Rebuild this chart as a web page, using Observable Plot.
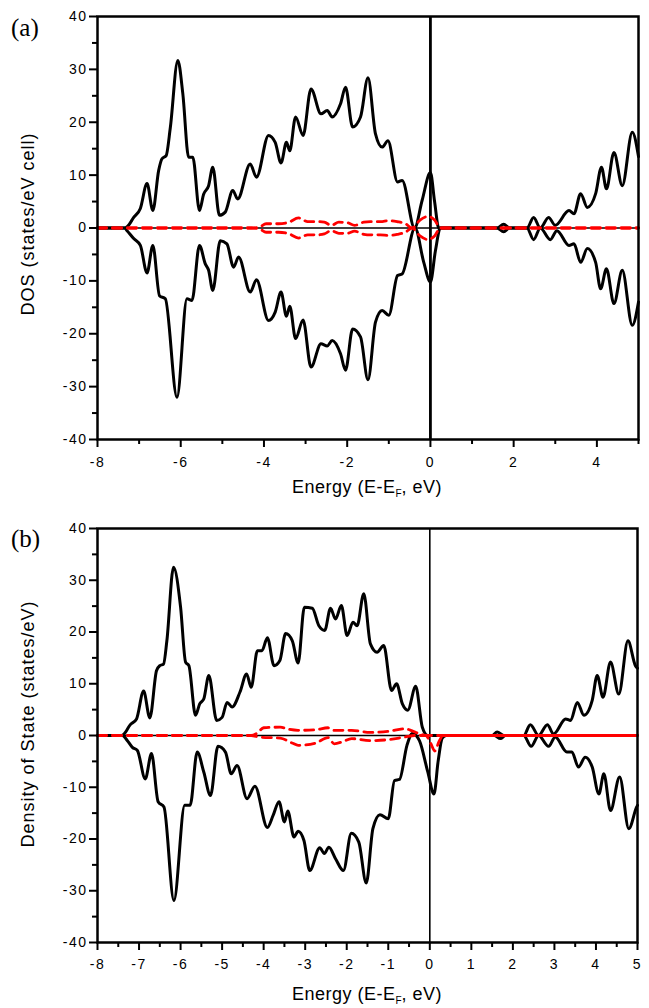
<!DOCTYPE html>
<html><head><meta charset="utf-8">
<script src="https://cdn.jsdelivr.net/npm/d3@7"></script>
<script src="https://cdn.jsdelivr.net/npm/@observablehq/plot@0.6"></script>
<style>
body{margin:0;background:#fff;}
#wrap{position:relative;width:649px;height:1008px;font-family:"Liberation Sans",Arial,sans-serif;overflow:hidden;}
.panel{position:absolute;left:0;}
.lbl{position:absolute;white-space:nowrap;color:#000;line-height:1;}
.plab{font-family:"Liberation Serif","DejaVu Serif",serif;font-size:25px;}
.ylab{font-size:18px;letter-spacing:1px;transform:translate(-50%,-50%) rotate(-90deg);}
.xlab{font-size:18px;letter-spacing:0.5px;transform:translate(-50%,-50%);}
.xlab sub{font-size:10px;vertical-align:-4px;letter-spacing:0;}
</style></head><body>
<div id="wrap">
  <div id="pa" class="panel" style="top:0px"></div>
  <div id="pb" class="panel" style="top:500px"></div>
  <div class="lbl plab" style="left:11px;top:15px">(a)</div>
  <div class="lbl plab" style="left:11px;top:526px">(b)</div>
  <div class="lbl ylab" style="left:28px;top:224px">DOS (states/eV cell)</div>
  <div class="lbl ylab" style="left:28px;top:724px">Density of State (states/eV)</div>
  <div class="lbl xlab" style="left:367px;top:488px">Energy (E-E<sub>F</sub>, eV)</div>
  <div class="lbl xlab" style="left:367px;top:995px">Energy (E-E<sub>F</sub>, eV)</div>
</div>
<script>
// ---------- Data (energy in eV, DOS) ----------
const yMajorTicks = [-40, -30, -20, -10, 0, 10, 20, 30, 40];
const yMinorTicks = [-35, -25, -15, -5, 5, 15, 25, 35];
const aXMajorTicks = [-8, -6, -4, -2, 0, 2, 4];
const aXMinorTicks = [-7, -5, -3, -1, 1, 3, 5];
const bXMajorTicks = [-8, -7, -6, -5, -4, -3, -2, -1, 0, 1, 2, 3, 4, 5];
const bXMinorTicks = [-7.5, -6.5, -5.5, -4.5, -3.5, -2.5, -1.5, -0.5, 0.5, 1.5, 2.5, 3.5, 4.5];

// Panel (a): total DOS spin up / spin down (black)
const aUp = [[-8,0],[-7.35,0],[-7.28,0.3],[-7.13,2.0],[-6.97,3.7],[-6.81,8.4],[-6.67,3.3],[-6.53,10.9],[-6.45,13.1],[-6.35,13.7],[-6.25,19],[-6.07,31.7],[-5.95,25.4],[-5.81,13.4],[-5.71,13.4],[-5.55,3.3],[-5.45,6.4],[-5.33,8],[-5.23,11.5],[-5.07,2.4],[-4.93,3.0],[-4.75,7.1],[-4.63,5.5],[-4.33,12.1],[-4.18,9.6],[-3.89,17.5],[-3.73,16.2],[-3.59,12.3],[-3.46,16.2],[-3.38,14.6],[-3.24,21.0],[-3.06,17.5],[-2.87,26.3],[-2.63,21.6],[-2.48,22.2],[-2.36,21],[-2.16,23.5],[-2.04,26.6],[-1.87,19.1],[-1.68,21],[-1.50,28.4],[-1.32,17.8],[-1.16,15.3],[-1.02,16.5],[-0.79,8.7],[-0.68,9],[-0.38,0],[-0.2,5.2],[0,10.5],[0.1,5],[0.2,0],[1.6,0],[1.76,0.7],[1.9,0],[2.32,0],[2.48,2.0],[2.64,0],[2.84,2.0],[3.0,0.5],[3.33,3.3],[3.45,2.7],[3.61,6.5],[3.77,3.9],[3.97,6.5],[4.11,11.5],[4.23,7.4],[4.41,14.3],[4.61,8.0],[4.85,18.1],[5.0,13.5]];
const aDown = [[-8,0],[-7.35,0],[-7.29,-0.5],[-7.13,-2.0],[-6.97,-3.3],[-6.81,-8.5],[-6.67,-3.3],[-6.51,-12.8],[-6.37,-13.4],[-6.09,-32],[-5.85,-13.4],[-5.73,-13.7],[-5.55,-3.3],[-5.41,-6.8],[-5.33,-8],[-5.23,-11.8],[-5.05,-2.4],[-4.89,-3],[-4.73,-7.4],[-4.61,-5.5],[-4.33,-12.1],[-4.18,-9.8],[-3.89,-17.5],[-3.73,-15.9],[-3.59,-12.1],[-3.46,-16.7],[-3.38,-14.8],[-3.24,-20.9],[-3.06,-17.4],[-2.87,-26.3],[-2.63,-21.9],[-2.48,-22.3],[-2.36,-21.3],[-2.16,-23.8],[-2.04,-26.9],[-1.87,-19.1],[-1.68,-20.6],[-1.50,-28.7],[-1.32,-17.8],[-1.16,-15.6],[-1.0,-16.5],[-0.79,-9.0],[-0.68,-8.7],[-0.37,0],[-0.16,-6.5],[0,-10.2],[0.12,-4.3],[0.24,0],[1.6,0],[1.76,-0.7],[1.9,0],[2.32,0],[2.48,-2.2],[2.64,0],[2.88,-2.2],[3.04,-0.5],[3.33,-3.3],[3.45,-3.0],[3.61,-6.5],[3.77,-3.9],[3.97,-6.5],[4.09,-11.5],[4.23,-7.7],[4.41,-14.3],[4.61,-8.0],[4.85,-18.4],[5.0,-14.0]];
// Panel (a): partial DOS (red dashed)
const aRedUp = [[-8,0],[-4.3,0],[-4.1,0.2],[-3.95,0.8],[-3.65,0.8],[-3.4,1.1],[-3.17,1.9],[-2.95,1.2],[-2.72,1.2],[-2.55,1.1],[-2.38,0.5],[-2.2,1.1],[-2.0,1.0],[-1.82,0.5],[-1.6,1.1],[-1.44,1.2],[-1.2,1.2],[-1.0,1.4],[-0.8,1.2],[-0.6,0.8],[-0.44,0],[-0.25,1.5],[-0.05,2.2],[0.1,1.5],[0.24,0],[5,0]];
const aRedDown = [[-8,0],[-4.3,0],[-4.1,-0.2],[-3.95,-0.8],[-3.65,-0.8],[-3.4,-1.1],[-3.17,-1.9],[-2.95,-1.3],[-2.72,-1.3],[-2.55,-1.1],[-2.38,-0.5],[-2.2,-1.0],[-2.0,-1.0],[-1.82,-0.6],[-1.6,-1.2],[-1.44,-1.3],[-1.2,-1.3],[-1.0,-1.4],[-0.8,-1.2],[-0.6,-0.8],[-0.44,0],[-0.25,-1.5],[-0.05,-2.2],[0.1,-1.5],[0.24,0],[5,0]];

// Panel (b): total DOS spin up / spin down (black)
const bUp = [[-8,0],[-7.42,0],[-7.37,0.2],[-7.21,2.1],[-7.06,3.2],[-6.89,8.6],[-6.74,3.4],[-6.58,12.5],[-6.50,13.5],[-6.41,13.8],[-6.33,18.3],[-6.17,32.5],[-6.0,24.8],[-5.88,14.2],[-5.80,13.5],[-5.64,3.9],[-5.54,6.1],[-5.44,7.1],[-5.32,11.6],[-5.13,2.9],[-5.0,3.5],[-4.88,6.4],[-4.76,5.5],[-4.57,8.4],[-4.41,11.9],[-4.30,9.3],[-4.15,16.4],[-4.04,16.4],[-3.91,18.9],[-3.75,13.5],[-3.61,14.5],[-3.47,19.7],[-3.31,18.3],[-3.17,14.0],[-3.02,24.8],[-2.83,24.6],[-2.67,21.2],[-2.53,20.3],[-2.39,24.6],[-2.27,22.5],[-2.13,25.1],[-1.99,19.3],[-1.85,21.9],[-1.75,21.2],[-1.59,27.4],[-1.43,17.7],[-1.27,16.1],[-1.11,17.4],[-0.92,8.7],[-0.80,10.0],[-0.66,6.1],[-0.53,4.9],[-0.34,9.5],[-0.18,1.6],[-0.05,0],[1.5,0],[1.62,0.7],[1.78,0],[2.26,0],[2.42,2.1],[2.62,0],[2.83,2.1],[2.98,0.3],[3.27,3.2],[3.39,2.9],[3.55,6.4],[3.71,3.9],[3.91,6.8],[4.03,11.6],[4.17,7.4],[4.35,14.2],[4.55,8.0],[4.77,18.3],[4.95,13.5],[5,13]];
const bDown = [[-8,0],[-7.4,0],[-7.28,-1.0],[-7.16,-2.3],[-7.04,-2.9],[-6.85,-8.4],[-6.70,-3.5],[-6.54,-12.8],[-6.40,-13.8],[-6.16,-31.9],[-5.90,-13.5],[-5.77,-13.5],[-5.60,-3.2],[-5.44,-7.1],[-5.28,-11.6],[-5.10,-2.1],[-4.92,-3.2],[-4.78,-7.4],[-4.64,-5.8],[-4.40,-12.2],[-4.21,-9.8],[-3.91,-17.8],[-3.77,-15.4],[-3.63,-12.8],[-3.50,-16.7],[-3.42,-14.6],[-3.27,-19.6],[-3.17,-18.5],[-3.03,-20.3],[-2.89,-26.1],[-2.65,-21.7],[-2.54,-22.8],[-2.43,-21.6],[-2.27,-23.8],[-2.08,-26.1],[-1.89,-18.9],[-1.71,-20.6],[-1.53,-28.5],[-1.37,-18.0],[-1.20,-15.3],[-1.0,-16.1],[-0.85,-8.7],[-0.73,-8.5],[-0.55,-1.9],[-0.42,0.4],[-0.25,-1.0],[-0.05,-7],[0.1,-11.3],[0.2,-5],[0.3,-0.5],[0.4,0],[1.55,0],[1.70,-0.6],[1.82,0],[2.26,0],[2.44,-2.1],[2.62,0],[2.86,-2.1],[3.02,-0.3],[3.30,-3.2],[3.42,-3.2],[3.58,-6.1],[3.74,-4.2],[3.91,-6.1],[4.07,-11.3],[4.19,-7.4],[4.35,-14.5],[4.57,-8.0],[4.79,-18.0],[4.98,-13.8],[5,-13.5]];
// Panel (b): partial DOS (red dashed) and solid tail above Fermi level
const bRedUp = [[-8,0],[-4.3,0],[-4.15,0.5],[-4.0,1.5],[-3.6,1.6],[-3.4,1.2],[-3.17,1.0],[-2.76,1.1],[-2.45,1.5],[-2.3,1.0],[-1.88,1.0],[-1.44,0.6],[-1.0,0.8],[-0.6,1.3],[-0.4,0.8],[-0.2,0.2],[-0.05,0],[5,0]];
const bRedDown = [[-8,0],[-4.3,0],[-4.1,-0.3],[-3.6,-0.5],[-3.3,-1.5],[-3.17,-1.9],[-2.76,-1.5],[-2.45,-0.4],[-2.3,-1.6],[-2.1,-1.2],[-1.88,-0.6],[-1.44,-1.0],[-1.0,-0.8],[-0.6,-0.3],[-0.35,0],[-0.1,0],[0.02,-1.5],[0.12,-3.0],[0.22,-1.2],[0.32,0],[5,0]];
const bRedTail = [[0.3,0],[5,0]];

// ---------- Drawing ----------
const X = d => d[0], Y = d => d[1];
const fmt = d => String(d);

function panel(o) {
  const marks = [
    Plot.ruleY([0], {stroke: "#000", strokeWidth: 1.6}),
    Plot.ruleX([0], {stroke: "#000", strokeWidth: o.vWidth}),
    Plot.line(o.up, {x: X, y: Y, curve: "monotone-x", stroke: "#000", strokeWidth: 3}),
    Plot.line(o.down, {x: X, y: Y, curve: "monotone-x", stroke: "#000", strokeWidth: 3}),
    Plot.line(o.redUp, {x: X, y: Y, curve: "monotone-x", stroke: "#ff0000", strokeWidth: 2.8, strokeDasharray: "9,6"}),
    Plot.line(o.redDown, {x: X, y: Y, curve: "monotone-x", stroke: "#ff0000", strokeWidth: 2.8, strokeDasharray: "9,6"})
  ];
  if (o.redTail) marks.push(Plot.line(o.redTail, {x: X, y: Y, stroke: "#ff0000", strokeWidth: 2.8}));
  marks.push(
    Plot.frame({stroke: "#000", strokeWidth: 2.5}),
    Plot.axisY({ticks: yMajorTicks, tickSize: 8, tickPadding: 2, strokeWidth: 2, tickFormat: fmt, label: null}),
    Plot.axisY({ticks: yMinorTicks, tickSize: 5, strokeWidth: 2, tickFormat: () => "", label: null}),
    Plot.axisX({ticks: o.xMajor, tickSize: 8, tickPadding: o.xPad, strokeWidth: 2, tickFormat: fmt, label: null}),
    Plot.axisX({ticks: o.xMinor, tickSize: 5, strokeWidth: 2, tickFormat: () => "", label: null})
  );
  return Plot.plot({
    width: 649, height: o.height,
    marginLeft: 97, marginRight: o.marginRight, marginTop: o.marginTop, marginBottom: o.marginBottom,
    style: {fontFamily: "'Liberation Sans', Arial, sans-serif", fontSize: "14px", color: "#000", background: "#fff", letterSpacing: "1.5px"},
    x: {domain: [-8, 5]},
    y: {domain: [-40, 40]},
    marks
  });
}

document.getElementById("pa").appendChild(panel({
  up: aUp, down: aDown, redUp: aRedUp, redDown: aRedDown,
  height: 500, marginTop: 16, marginBottom: 61, marginRight: 11,
  xMajor: aXMajorTicks, xMinor: aXMinorTicks, xPad: 10, vWidth: 2.8
}));
document.getElementById("pb").appendChild(panel({
  up: bUp, down: bDown, redUp: bRedUp, redDown: bRedDown, redTail: bRedTail,
  height: 508, marginTop: 28, marginBottom: 66, marginRight: 12,
  xMajor: bXMajorTicks, xMinor: bXMinorTicks, xPad: 9, vWidth: 1.6
}));
</script>
</body></html>
